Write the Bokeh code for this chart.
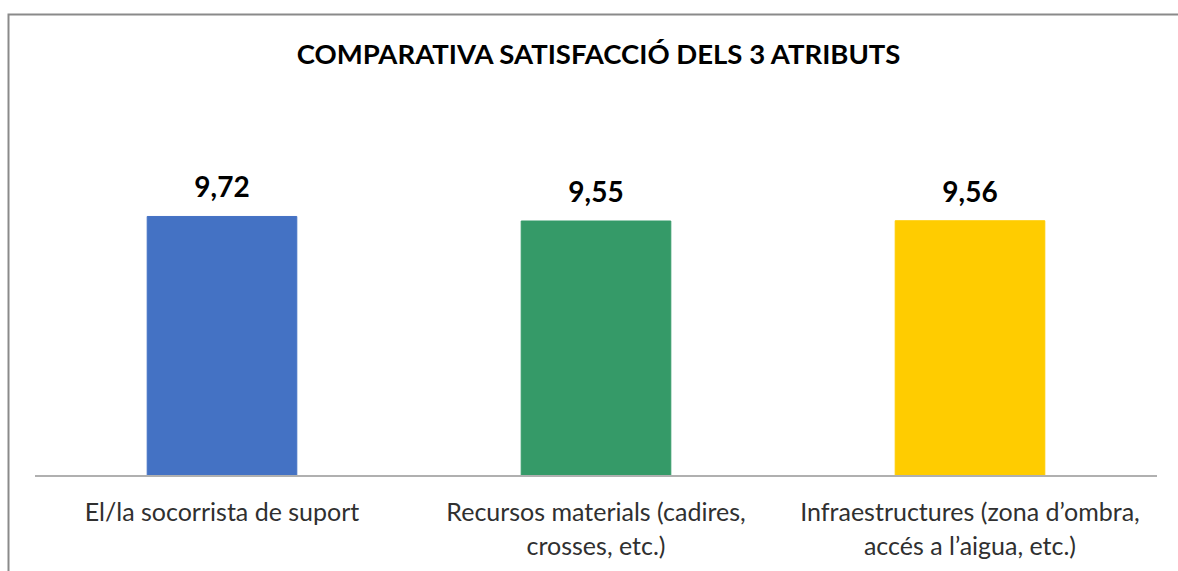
from bokeh.plotting import figure
from bokeh.models import Range1d, Label, ColumnDataSource
from bokeh.core.properties import value
from bokeh.embed import file_html
from bokeh.resources import INLINE

title_text = "COMPARATIVA SATISFACCIÓ DELS 3 ATRIBUTS"
categories = [
    "El/la socorrista de suport",
    "Recursos materials (cadires,\ncrosses, etc.)",
    "Infraestructures (zona d\u2019ombra,\naccés a l\u2019aigua, etc.)",
]
values = [9.72, 9.55, 9.56]
value_labels = ["9,72", "9,55", "9,56"]
colors = ["#4472C4", "#359A68", "#FFCC00"]

FONT = "Lato"

# ---- layout (pixels) ----
W, H = 1178, 571
AXIS_LEFT_PX, AXIS_RIGHT_PX = 34.5, 21.5      # space left / right of the category band
AXIS_Y_PX = 475.5                              # baseline (value 0) from top
PX_PER_UNIT_Y = 26.7
n = len(categories)
px_per_cat = (W - AXIS_LEFT_PX - AXIS_RIGHT_PX) / n

x0 = -AXIS_LEFT_PX / px_per_cat
x1 = n + AXIS_RIGHT_PX / px_per_cat
y1 = AXIS_Y_PX / PX_PER_UNIT_Y
y0 = -(H - AXIS_Y_PX) / PX_PER_UNIT_Y

def px_x(px):
    return x0 + px / px_per_cat

def px_y(py):
    return (AXIS_Y_PX - py) / PX_PER_UNIT_Y

xs = [i + 0.5 for i in range(n)]
src = ColumnDataSource(dict(x=xs, cat=categories, val=values, lab=value_labels,
                            col=colors, zero=[0] * n))

p = figure(
    x_range=Range1d(x0, x1), y_range=Range1d(y0, y1),
    width=W, height=H,
    min_border=0, min_border_left=0, min_border_right=0,
    min_border_top=0, min_border_bottom=0,
    output_backend="svg", toolbar_location=None,
)
p.title.visible = False
p.outline_line_color = None
p.background_fill_color = "white"
p.border_fill_color = "white"
p.xgrid.visible = False
p.ygrid.visible = False
p.xaxis.visible = False
p.yaxis.visible = False

# chart border (only left and top edges are visible; the rest is cropped)
p.line(x=[px_x(8), px_x(8), x1 + 1], y=[y0 - 1, px_y(14), px_y(14)],
       line_color="#8a8a8a", line_width=2, line_join="miter")

# bars
p.vbar(x="x", top="val", width=0.4, color="col", source=src)

# category axis line
p.segment(x0=[0], x1=[n], y0=[0], y1=[0], line_color="#b0b0b0", line_width=2)

# value labels
p.text(x="x", y="val", text="lab", source=src, y_offset=-19,
       text_align="center", text_baseline="bottom",
       text_font=value(FONT), text_font_style="bold", text_font_size="28px",
       text_color="#000000")

# category labels
p.text(x="x", y="zero", text="cat", source=src, y_offset=20,
       text_align="center", text_baseline="top",
       text_font=value(FONT), text_font_size="25px", text_line_height=1.13,
       text_color="#303030")

# title
title = Label(x=px_x(599), y=px_y(53), text=title_text,
              text_align="center", text_baseline="alphabetic",
              text_font=FONT, text_font_style="bold", text_font_size="27.5px",
              text_color="#000000")
p.add_layout(title)

open("out.html", "w").write(file_html(p, INLINE))
